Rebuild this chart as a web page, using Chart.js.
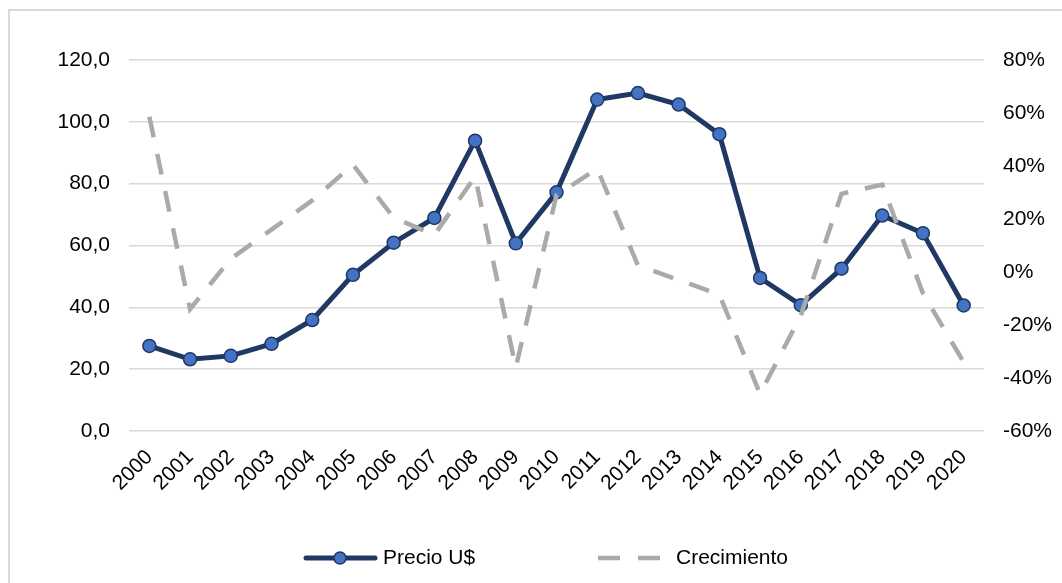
<!DOCTYPE html>
<html>
<head>
<meta charset="utf-8">
<script src="https://cdn.jsdelivr.net/npm/chart.js@4/dist/chart.umd.min.js"></script>
<style>
  html, body { margin: 0; padding: 0; background: #fff; }
  #wrap { position: relative; width: 1062px; height: 583px; overflow: hidden; }
  #frame { position: absolute; left: 8px; top: 9px; width: 1080px; height: 600px;
           border-left: 2px solid #d9d9d9; border-top: 2px solid #d9d9d9; box-sizing: border-box; }
  canvas { position: absolute; left: 0; top: 0; }
</style>
</head>
<body>
<div id="wrap">
  <div id="frame"></div>
  <canvas id="chart" width="1062" height="583"></canvas>
</div>
<script>
// years on the x axis
const years = ['2000', '2001', '2002', '2003', '2004', '2005', '2006', '2007', '2008', '2009', '2010',
               '2011', '2012', '2013', '2014', '2015', '2016', '2017', '2018', '2019', '2020'];

// price (left axis)
const precio = [27.5, 23.2, 24.3, 28.2, 35.9, 50.5, 60.9, 68.9, 93.9, 60.7, 77.2,
                107.2, 109.3, 105.6, 96.0, 49.5, 40.7, 52.5, 69.7, 64.0, 40.6];

// growth in % (right axis)
const crecimiento = [58.6, -14, 5, 16, 27, 40.5, 20.5, 14, 36, -36, 29,
                     39, 2.5, -3, -8.5, -46, -16.5, 29.5, 33, -8, -34];

const leftTicks = [0, 20, 40, 60, 80, 100, 120];
const rightTicks = [-60, -40, -20, 0, 20, 40, 60, 80];

const navy = '#203864';
const blue = '#4472C4';
const gray = '#ADA9A9';
const font = { family: '"Liberation Sans", Arial, sans-serif', size: 21 };

// legend drawn by hand so the marker sits on the line sample
const bottomLegend = {
    id: 'bottomLegend',
    afterDraw(chart) {
        const ctx = chart.ctx;
        const y = 558;
        ctx.save();
        // Precio U$
        ctx.strokeStyle = navy;
        ctx.lineWidth = 5;
        ctx.lineCap = 'round';
        ctx.beginPath(); ctx.moveTo(306, y); ctx.lineTo(375, y); ctx.stroke();
        ctx.beginPath(); ctx.arc(340, y, 6, 0, Math.PI * 2);
        ctx.fillStyle = blue; ctx.fill();
        ctx.lineWidth = 1.5; ctx.stroke();
        // Crecimiento
        ctx.strokeStyle = gray;
        ctx.lineWidth = 4.5;
        ctx.lineCap = 'butt';
        ctx.setLineDash([22, 18]);
        ctx.beginPath(); ctx.moveTo(598, y); ctx.lineTo(664, y); ctx.stroke();
        ctx.setLineDash([]);
        ctx.fillStyle = '#000';
        ctx.font = font.size + 'px ' + font.family;
        ctx.textBaseline = 'middle';
        ctx.textAlign = 'left';
        ctx.fillText(chart.data.datasets[0].label, 383, y);
        ctx.fillText(chart.data.datasets[1].label, 676, y);
        ctx.restore();
    }
};

const ctx = document.getElementById('chart').getContext('2d');
new Chart(ctx, {
    type: 'line',
    data: {
        labels: years,
        datasets: [{
            label: 'Precio U$',
            data: precio,
            yAxisID: 'y',
            borderColor: navy,
            borderWidth: 5,
            backgroundColor: blue,
            pointBackgroundColor: blue,
            pointBorderColor: navy,
            pointBorderWidth: 1.5,
            pointRadius: 6.5,
            tension: 0,
            order: 2
        }, {
            label: 'Crecimiento',
            data: crecimiento,
            yAxisID: 'y1',
            borderColor: gray,
            borderWidth: 4.5,
            borderDash: [21, 17],
            pointRadius: 0,
            tension: 0,
            order: 1
        }]
    },
    options: {
        responsive: false,
        animation: false,
        layout: { padding: { top: 60, left: 0, right: 0, bottom: 0 } },
        plugins: {
            legend: { display: false },
            tooltip: { enabled: false }
        },
        scales: {
            x: {
                offset: true,
                grid: { display: false },
                border: { display: false },
                ticks: { color: '#000', font: font, minRotation: 45, maxRotation: 45, padding: 6 },
                afterFit: s => { s.height = 152; }
            },
            y: {
                position: 'left',
                min: 0, max: 120,
                afterBuildTicks: s => { s.ticks = leftTicks.map(v => ({ value: v })); },
                grid: { color: '#d9d9d9', lineWidth: 1.5, drawTicks: false },
                border: { display: false },
                ticks: { color: '#000', font: font, padding: 19,
                         callback: v => v.toFixed(1).replace('.', ',') },
                afterFit: s => { s.width = 129; }
            },
            y1: {
                position: 'right',
                min: -60, max: 80,
                afterBuildTicks: s => { s.ticks = rightTicks.map(v => ({ value: v })); },
                grid: { display: false, drawTicks: false },
                border: { display: false },
                ticks: { color: '#000', font: font, padding: 19, callback: v => v + '%' },
                afterFit: s => { s.width = 78; }
            }
        }
    },
    plugins: [bottomLegend]
});
</script>
</body>
</html>
